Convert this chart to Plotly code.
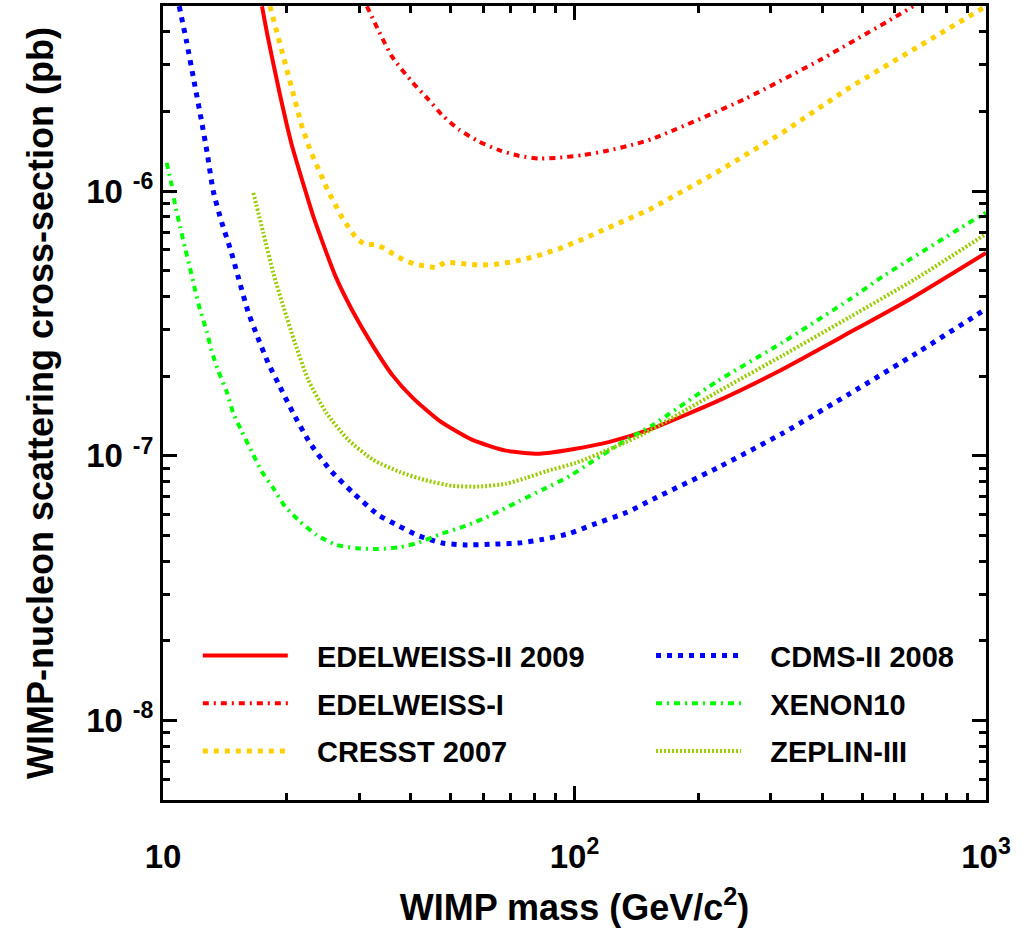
import plotly.graph_objects as go

# ---------------- data ----------------
ed2_mass = [17.4, 18.0, 19.26, 20.55, 22.2, 23.19, 26.2, 28.8, 32.2, 36.1, 40.4, 46.9,
            56.5, 68.1, 82.2, 99, 121.7, 152.6, 221.8, 310, 467, 653, 1000]
ed2_sigma = [5.0e-6, 3.79e-6, 2.30e-6, 1.50e-6, 1.0e-6, 8.04e-7, 4.81e-7, 3.56e-7,
             2.64e-7, 2.02e-7, 1.66e-7, 1.36e-7, 1.15e-7, 1.047e-7, 1.02e-7, 1.06e-7,
             1.13e-7, 1.26e-7, 1.607e-7, 2.07e-7, 2.93e-7, 3.91e-7, 5.85e-7]

ed1_mass = [31.3, 33.4, 36.1, 40.4, 44.3, 47.7, 52.4, 58.6, 65.6, 73.4, 82.1, 91.9,
            104.7, 119.4, 138.7, 155, 259, 399, 601, 665]
ed1_sigma = [5.0e-6, 4.05e-6, 3.21e-6, 2.58e-6, 2.21e-6, 1.94e-6, 1.71e-6, 1.54e-6,
             1.43e-6, 1.36e-6, 1.33e-6, 1.34e-6, 1.37e-6, 1.42e-6, 1.50e-6, 1.58e-6,
             2.23e-6, 3.16e-6, 4.55e-6, 5.0e-6]

cresst_mass = [18.2, 19.08, 20.2, 21.75, 22.75, 23.4, 25.2, 27.3, 28.8, 29.55, 30.97,
               33.0, 34.96, 36.96, 39.1, 41.3, 44.0, 46.0, 48.6, 52.4, 58.6, 63.2, 70.7,
               80.6, 91.9, 104.7, 121.7, 138.7, 152.6, 221.8, 321, 467, 679, 956, 1000]
cresst_sigma = [5.0e-6, 3.79e-6, 2.62e-6, 1.76e-6, 1.44e-6, 1.31e-6, 1.0e-6, 7.9e-7,
                7.05e-7, 6.61e-7, 6.29e-7, 6.29e-7, 6.02e-7, 5.68e-7, 5.44e-7, 5.28e-7,
                5.2e-7, 5.14e-7, 5.40e-7, 5.35e-7, 5.26e-7, 5.28e-7, 5.41e-7, 5.68e-7,
                6.07e-7, 6.59e-7, 7.29e-7, 7.98e-7, 8.55e-7, 1.18e-6, 1.67e-6, 2.47e-6,
                3.50e-6, 4.8e-6, 5.0e-6]

cdms_mass = [10.95, 11.4, 11.9, 12.4, 12.8, 13.25, 13.9, 14.6, 15.2, 16.1, 17.0, 18.0,
             19.06, 20.73, 22.75, 25.45, 29.0, 33.3, 37.3, 41.7, 47.7, 54.4, 63.2, 73.4,
             83.7, 97.2, 110.8, 133.7, 155, 222, 321, 467, 679, 977, 1000]
cdms_sigma = [5.0e-6, 3.7e-6, 2.6e-6, 1.85e-6, 1.4e-6, 1.0e-6, 7.6e-7, 6.0e-7, 4.8e-7,
              3.5e-7, 2.8e-7, 2.25e-7, 1.88e-7, 1.45e-7, 1.12e-7, 8.87e-8, 7.24e-8,
              6.0e-8, 5.45e-8, 5.0e-8, 4.69e-8, 4.61e-8, 4.64e-8, 4.69e-8, 4.84e-8,
              5.09e-8, 5.50e-8, 6.11e-8, 6.86e-8, 9.0e-8, 1.22e-7, 1.72e-7, 2.45e-7,
              3.51e-7, 3.6e-7]

xenon_mass = [10.21, 10.49, 10.70, 11.0, 11.31, 11.63, 11.96, 12.30, 12.77, 13.13, 13.63,
              14.28, 14.82, 15.53, 16.43, 17.38, 18.54, 19.80, 21.53, 23.6, 26.4, 29.6,
              33.3, 37.6, 41.3, 47.7, 54.4, 63.2, 73.4, 83.7, 97.2, 110.8, 133.7, 155,
              221.8, 321, 467, 563, 957, 1000]
xenon_sigma = [1.28e-6, 1.06e-6, 8.9e-7, 7.37e-7, 6.11e-7, 5.13e-7, 4.25e-7, 3.57e-7,
               2.96e-7, 2.49e-7, 2.09e-7, 1.75e-7, 1.45e-7, 1.24e-7, 1.04e-7, 8.73e-8,
               7.55e-8, 6.44e-8, 5.65e-8, 5.03e-8, 4.61e-8, 4.48e-8, 4.45e-8, 4.52e-8,
               4.68e-8, 5.09e-8, 5.44e-8, 6.01e-8, 6.75e-8, 7.46e-8, 8.38e-8, 9.57e-8,
               1.15e-7, 1.31e-7, 1.91e-7, 2.69e-7, 3.91e-7, 4.78e-7, 7.98e-7, 8.3e-7]

zeplin_mass = [16.58, 17.53, 18.54, 19.61, 20.93, 22.54, 24.98, 28.2, 32.4, 37.6, 43.4,
               50.5, 58.6, 68.1, 76.2, 85.3, 100.9, 121.7, 146.8, 221.8, 321, 467, 679,
               1000]
zeplin_sigma = [9.86e-7, 6.96e-7, 4.91e-7, 3.67e-7, 2.67e-7, 1.94e-7, 1.45e-7, 1.15e-7,
                9.67e-8, 8.7e-8, 8.1e-8, 7.71e-8, 7.66e-8, 7.85e-8, 8.25e-8, 8.75e-8,
                9.42e-8, 1.06e-7, 1.21e-7, 1.74e-7, 2.40e-7, 3.35e-7, 4.7e-7, 6.9e-7]

x_tickvals = [10, 100, 1000]
x_ticktext = ["10", "10<sup>2</sup>", "10<sup>3</sup>"]
y_tickvals = [1e-8, 1e-7, 1e-6]
y_exponents = ["-8", "-7", "-6"]
y_ticktext = ["1<span style='letter-spacing:10px'>0</span><sup>%s</sup>" % e
              for e in y_exponents]
x_minor = [20, 30, 40, 50, 60, 70, 80, 90, 200, 300, 400, 500, 600, 700, 800, 900]
y_minor = [6e-9, 7e-9, 8e-9, 9e-9, 2e-8, 3e-8, 4e-8, 5e-8, 6e-8, 7e-8, 8e-8, 9e-8,
           2e-7, 3e-7, 4e-7, 5e-7, 6e-7, 7e-7, 8e-7, 9e-7, 2e-6, 3e-6, 4e-6, 5e-6]

FONT = "Liberation Sans, Arial, sans-serif"
PAD = "\u00a0\u00a0\u00a0"

series = [
    # name, x, y, color, dash, width, shape, legend
    ("EDELWEISS-II 2009", ed2_mass, ed2_sigma, "#FF0000", "solid", 4, "spline", "legend"),
    ("CDMS-II 2008", cdms_mass, cdms_sigma, "#0000FF", "5px,6px", 5, "spline", "legend2"),
    ("EDELWEISS-I", ed1_mass, ed1_sigma, "#FF0000", "6px,5px,2px,5px", 4, "spline", "legend"),
    ("XENON10", xenon_mass, xenon_sigma, "#00FF00", "6px,5px,2px,5px", 4, "spline", "legend2"),
    ("CRESST 2007", cresst_mass, cresst_sigma, "#FFD000", "5px,6px", 5, "linear", "legend"),
    ("ZEPLIN-III", zeplin_mass, zeplin_sigma, "#99CC00", "2px,2px", 4, "spline", "legend2"),
]

fig = go.Figure()
for name, xs, ys, col, dash, w, shape, lg in series:
    fig.add_trace(go.Scatter(
        x=xs, y=ys, mode="lines", name=PAD + name,
        line=dict(color=col, dash=dash, width=w, shape=shape, smoothing=0.6),
        legend=lg, legendgroup=name,
    ))

axis_common = dict(
    type="log", showgrid=False, zeroline=False, automargin=False,
    showline=True, linewidth=3, linecolor="black", mirror="allticks",
    ticks="inside", ticklen=14, tickwidth=3, tickcolor="black",
    tickfont=dict(family=FONT, size=33, color="black", weight="bold"),
)

legend_common = dict(
    xanchor="left", yanchor="top", bgcolor="rgba(0,0,0,0)",
    itemwidth=85, tracegroupgap=7, traceorder="grouped",
    font=dict(family=FONT, size=29, color="black", weight="bold"),
)

fig.update_layout(
    width=1034, height=930,
    margin=dict(l=163, r=48, t=6, b=130, autoexpand=False),
    paper_bgcolor="white", plot_bgcolor="white",
    font=dict(family=FONT, color="black", weight="bold"),
    xaxis=dict(
        axis_common, range=[1, 3],
        tickvals=x_tickvals, ticktext=x_ticktext, ticklabelstandoff=25,
        minor=dict(tickvals=x_minor, ticks="inside", ticklen=7, tickwidth=3,
                   tickcolor="black", showgrid=False),
        title=dict(text="WIMP mass (GeV/c<sup>2</sup>)",
                   font=dict(family=FONT, size=36, color="black", weight="bold"),
                   standoff=22),
    ),
    yaxis=dict(
        axis_common, range=[-8.3, -5.3],
        tickvals=y_tickvals, ticktext=y_ticktext, ticklabelstandoff=0,
        minor=dict(tickvals=y_minor, ticks="inside", ticklen=7, tickwidth=3,
                   tickcolor="black", showgrid=False),
        title=dict(text="WIMP-nucleon scattering cross-section (pb)",
                   font=dict(family=FONT, size=36, color="black", weight="bold"),
                   standoff=22),
    ),
    legend=dict(legend_common, x=0.0423, y=0.2138),
    legend2=dict(legend_common, x=0.593, y=0.2138),
)

fig.write_html("out.html", config={"displayModeBar": False},
               post_script="document.body.style.margin='0';")
